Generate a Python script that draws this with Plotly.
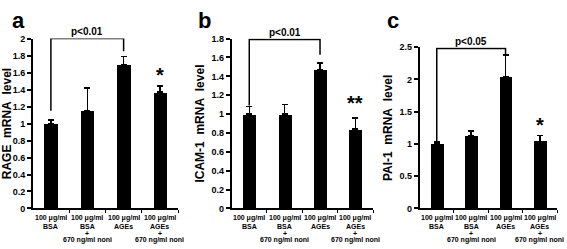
import plotly.graph_objects as go

categories = [0, 1, 2, 3]
cat_line1 = ["100 μg/ml", "100 μg/ml", "100 μg/ml", "100 μg/ml"]
cat_line2 = ["BSA", "BSA", "AGEs", "AGEs"]
cat_plus = ["", "+", "", "+"]
cat_line4 = ["", "670 ng/ml noni", "", "670 ng/ml noni"]

rage_values = [1.00, 1.15, 1.69, 1.37]
rage_errors = [0.04, 0.27, 0.10, 0.07]
icam_values = [1.00, 1.00, 1.47, 0.84]
icam_errors = [0.08, 0.10, 0.07, 0.12]
pai_values = [1.00, 1.12, 2.04, 1.04]
pai_errors = [0.03, 0.08, 0.34, 0.09]

panel_letters = ["a", "b", "c"]
y_titles = ["RAGE\u00a0\u00a0mRNA\u00a0\u00a0level", "ICAM-1\u00a0\u00a0mRNA\u00a0\u00a0level", "PAI-1\u00a0\u00a0mRNA\u00a0\u00a0level"]
p_labels = ["p<0.01", "p<0.01", "p<0.05"]
sig_marks = ["*", "**", "*"]
y_ranges = [[0, 2], [0, 1.8], [0, 2.5]]
y_dticks = [0.2, 0.2, 0.5]
# bracket: left leg bottom, top, right leg bottom (data units)
brackets = [[1.15, 2.0, 1.85], [1.09, 1.79, 1.63], [1.03, 2.48, 2.37]]
sig_y = [1.57, 1.12, 1.29]

W, H = 567, 249
FONT = "Arial, Liberation Sans, sans-serif"

x_px = [(27, 174), (228, 371), (418, 557)]
y_px = [(35, 212), (35, 212), (44, 212)]

fig = go.Figure()
series = [(rage_values, rage_errors), (icam_values, icam_errors), (pai_values, pai_errors)]

annotations = []
shapes = []
for i, (vals, errs) in enumerate(series):
    xa = "x" if i == 0 else f"x{i+1}"
    ya = "y" if i == 0 else f"y{i+1}"
    fig.add_trace(go.Bar(
        x=categories, y=vals, width=0.37,
        marker=dict(color="black", line=dict(width=0)),
        error_y=dict(type="data", array=errs, arrayminus=[0]*len(errs), symmetric=False,
                     color="black", thickness=1.5, width=3),
        xaxis=xa, yaxis=ya, showlegend=False,
    ))
    xl, xr = x_px[i]
    yt, yb = y_px[i]
    xkey = "xaxis" if i == 0 else f"xaxis{i+1}"
    ykey = "yaxis" if i == 0 else f"yaxis{i+1}"
    fig.update_layout(**{
        xkey: dict(domain=[xl / W, xr / W], range=[-0.5, 3.5], anchor=ya,
                   showline=True, linecolor="black", linewidth=1.5,
                   tickvals=[0.5, 1.5, 2.5, 3.5], ticktext=["", "", "", ""],
                   ticks="outside", ticklen=3, tickwidth=1, tickcolor="black",
                   showgrid=False, zeroline=False, fixedrange=True),
        ykey: dict(domain=[1 - yb / H, 1 - yt / H], range=y_ranges[i], anchor=xa,
                   showline=True, linecolor="black", linewidth=1.5,
                   dtick=y_dticks[i], tick0=0, ticks="outside", ticklen=4, tickwidth=1.5,
                   tickcolor="black", showgrid=False, zeroline=False,
                   tickfont=dict(family=FONT, size=9, color="black", weight="bold"),
                   title=dict(text=y_titles[i], standoff=4,
                              font=dict(family=FONT, size=12, color="black", weight="bold"))),
    })
    # category labels
    for c in categories:
        for text, py, fs in [(cat_line1[c], 222, 7), (cat_line2[c], 231, 7),
                             (cat_plus[c], 238, 7), (cat_line4[c], 245, 7)]:
            if text:
                annotations.append(dict(x=c, y=1 - py / H, xref=xa, yref="paper",
                                        text=text, showarrow=False, xanchor="center", yanchor="middle",
                                        font=dict(family=FONT, size=fs, color="black", weight="bold")))
    # bracket
    lb, top, rb = brackets[i]
    shapes.append(dict(type="path", xref=xa, yref=ya,
                       path=f"M 0,{lb} L 0,{top} L 2,{top} L 2,{rb}",
                       line=dict(color="black", width=1.5)))
    annotations.append(dict(x=1, y=top, xref=xa, yref=ya, text=p_labels[i], showarrow=False,
                            xanchor="center", yanchor="bottom", yshift=0,
                            font=dict(family=FONT, size=10, color="black", weight="bold")))
    annotations.append(dict(x=3, y=sig_y[i], xref=xa, yref=ya, text=sig_marks[i], showarrow=False,
                            xanchor="center", yanchor="middle",
                            font=dict(family=FONT, size=20, color="black", weight="bold")))
    # panel letter
    lx = [4, 192, 383][i]
    annotations.append(dict(x=lx / W, y=1 - 1 / H, xref="paper", yref="paper", text=panel_letters[i],
                            showarrow=False, xanchor="left", yanchor="top",
                            font=dict(family=FONT, size=22, color="black", weight="bold")))

fig.update_layout(width=W, height=H, margin=dict(l=0, r=0, t=0, b=0),
                  paper_bgcolor="white", plot_bgcolor="white",
                  annotations=annotations, shapes=shapes, bargap=0)
fig.write_html("out.html", config={"displayModeBar": False},
               post_script="document.body.style.margin='0';document.body.style.overflow='hidden';")
